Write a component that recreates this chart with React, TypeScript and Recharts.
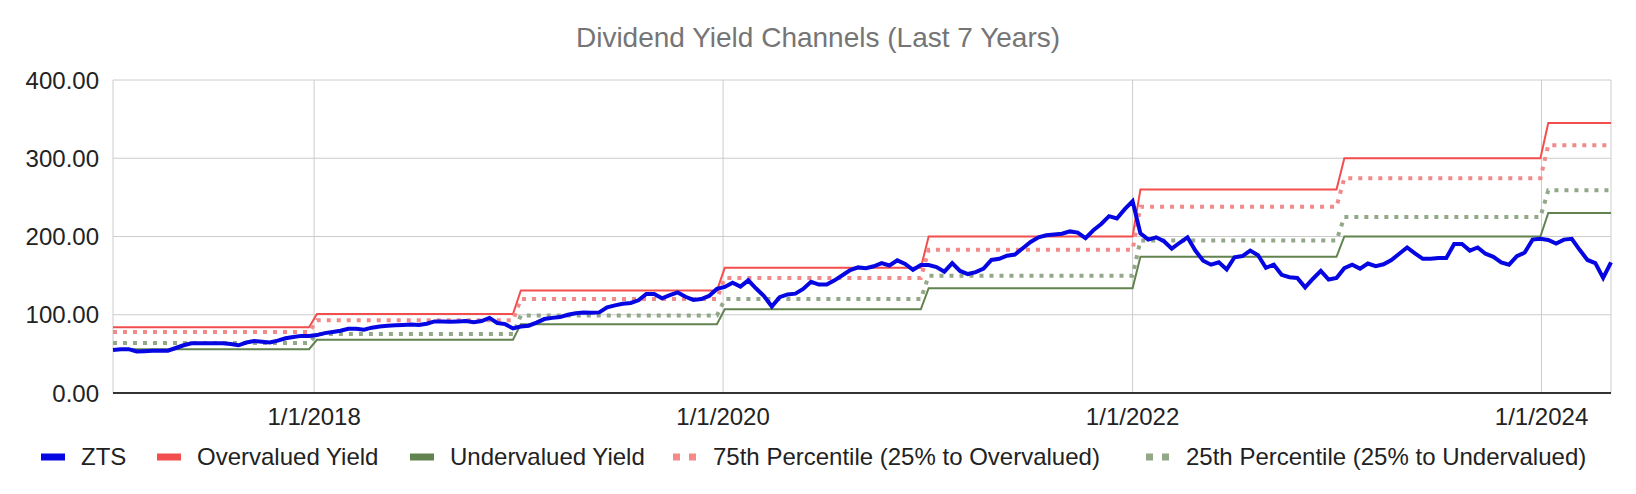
import React from 'react';
import { LineChart, Line, XAxis, YAxis, CartesianGrid } from 'recharts';

const DAY = 86400000;
const FONT = '"Liberation Sans", Arial, sans-serif';

// bi-weekly closes, first one on 7 Jan 2017
const startDate = Date.UTC(2017, 0, 7);
const ztsPrices = [
  55, 56, 56, 53, 53.5, 54, 54, 54, 57.5, 61,
  63.5, 63.5, 63.5, 63.5, 63.5, 62.5, 61, 64.5, 66.5, 65.5,
  64.5, 67, 70, 71.5, 73, 73, 74, 76.5, 78, 79.5,
  82, 82, 81, 83.5, 85, 86, 86.5, 87, 87.5, 87,
  88.5, 91.5, 91.5, 91, 91.5, 92, 90.5, 92, 96, 89.5,
  88, 82.5, 85, 86, 90, 94.5, 96, 97, 100, 102,
  103, 102.5, 103, 109.5, 112, 114, 115, 118.5, 126.5, 126.5,
  121, 125, 128.5, 123, 119, 120, 124, 133, 135.5, 141,
  136, 144, 133.5, 124, 110.5, 122.5, 126, 127, 133, 142,
  138.5, 138.5, 144, 150.5, 157, 160.5, 159.5, 162, 166, 163,
  169.5, 165, 157.5, 163.5, 163.5, 161, 155, 166, 156, 152,
  154.5, 159, 170, 171.5, 175.5, 177, 185, 193, 199, 201.5,
  202.5, 203.5, 206.5, 205, 198, 208, 216, 226, 223, 235,
  245, 204, 196, 199, 194, 184.5, 192, 199, 182, 169,
  164, 167, 158, 173.5, 175, 182, 176, 160, 164, 151,
  148, 147, 135, 146, 156, 145, 147, 159.5, 164, 159,
  165.5, 162, 164.5, 170, 178, 186, 178.5, 171.5, 171.5, 172.5,
  172.5, 190.5, 190.5, 182, 186, 178, 174, 167, 164, 175,
  179.5, 196, 197, 195.5, 191, 196, 197, 183, 170, 166,
  147, 167,
];
const dates = ztsPrices.map((_, i) => startDate + i * 14 * DAY);

// yearly channel levels
const channelYears = [2017, 2018, 2019, 2020, 2021, 2022, 2023, 2024];
const overvaluedYield = [84, 101, 131, 160, 200, 260, 300, 345];
const undervaluedYield = [56, 68, 88, 107, 134, 174, 200, 230];
const pct75 = [78, 93, 120, 147, 183, 238, 274.5, 316.5];
const pct25 = [64, 75.5, 99, 120, 150, 195, 225, 259];

const xTicks = [2018, 2020, 2022, 2024].map((y) => Date.UTC(y, 0, 1));
const yTicks = [0, 100, 200, 300, 400];

const data = dates.map((t, i) => {
  // a new channel starts after 1 Jan
  const k = channelYears.indexOf(new Date(t - DAY).getUTCFullYear());
  return {
    t,
    zts: ztsPrices[i],
    over: overvaluedYield[k],
    under: undervaluedYield[k],
    p75: pct75[k],
    p25: pct25[k],
  };
});

const series = [
  { key: 'zts', name: 'ZTS', color: '#0606e2', width: 4, dotted: false, legendX: 41 },
  { key: 'over', name: 'Overvalued Yield', color: '#f24e4e', width: 2, dotted: false, legendX: 157 },
  { key: 'under', name: 'Undervalued Yield', color: '#62834f', width: 2, dotted: false, legendX: 410 },
  { key: 'p75', name: '75th Percentile (25% to Overvalued)', color: '#f28a8a', width: 4, dotted: true, legendX: 673 },
  { key: 'p25', name: '25th Percentile (25% to Undervalued)', color: '#93a789', width: 4, dotted: true, legendX: 1146 },
];

const fmtDate = (v: number) => {
  const d = new Date(v);
  return `${d.getUTCMonth() + 1}/${d.getUTCDate()}/${d.getUTCFullYear()}`;
};

const tickStyle = { fill: '#222', fontSize: 24, fontFamily: FONT };

export default function App() {
  const drawOrder = [...series.slice(1), series[0]];
  return (
    <div style={{ position: 'absolute', left: 0, top: 0, width: 1636, height: 494, background: '#fff' }}>
      <LineChart
        width={1636}
        height={494}
        data={data}
        margin={{ top: 80, right: 25, bottom: 61, left: 0 }}
      >
        <CartesianGrid stroke="#cccccc" />
        <XAxis
          dataKey="t"
          type="number"
          domain={[dates[0], dates[dates.length - 1]]}
          ticks={xTicks}
          interval={0}
          tickFormatter={fmtDate}
          height={40}
          tickSize={0}
          tickMargin={15}
          tickLine={false}
          axisLine={{ stroke: '#333', strokeWidth: 2 }}
          tick={tickStyle}
        />
        <YAxis
          type="number"
          domain={[0, 400]}
          ticks={yTicks}
          interval={0}
          width={113}
          tickSize={0}
          tickMargin={14}
          tickLine={false}
          axisLine={false}
          tickFormatter={(v: number) => v.toFixed(2)}
          tick={tickStyle}
        />
        {drawOrder.map((s) => (
          <Line
            key={s.key}
            type="linear"
            dataKey={s.key}
            name={s.name}
            stroke={s.color}
            strokeWidth={s.width}
            strokeDasharray={s.dotted ? '4 6' : undefined}
            dot={false}
            activeDot={false}
            isAnimationActive={false}
          />
        ))}
      </LineChart>
      <svg
        width={1636}
        height={494}
        style={{ position: 'absolute', left: 0, top: 0, pointerEvents: 'none' }}
      >
        <text x={818} y={47} textAnchor="middle" fontSize={28} fontFamily={FONT} fill="#757575">
          Dividend Yield Channels (Last 7 Years)
        </text>
        {series.map((s) => (
          <g key={s.key}>
            {s.dotted ? (
              <>
                <rect x={s.legendX} y={453.5} width={7} height={7} fill={s.color} />
                <rect x={s.legendX + 16} y={453.5} width={7} height={7} fill={s.color} />
              </>
            ) : (
              <rect x={s.legendX} y={453.5} width={24} height={7} fill={s.color} />
            )}
            <text x={s.legendX + 40} y={465} fontSize={24} fontFamily={FONT} fill="#222">
              {s.name}
            </text>
          </g>
        ))}
      </svg>
    </div>
  );
}
